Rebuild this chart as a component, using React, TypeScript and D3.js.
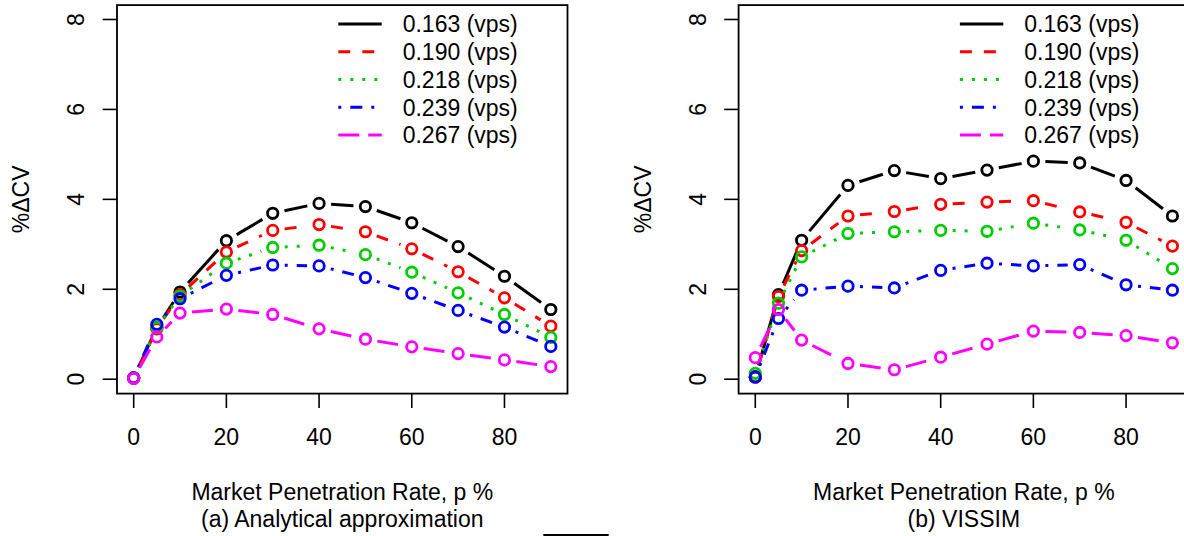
import React from "react";
import * as d3 from "d3";

// Market penetration rates (%) at which %ΔCV was evaluated
const penetration = [0, 5, 10, 20, 30, 40, 50, 60, 70, 80, 90];
const flowLabels = ["0.163 (vps)", "0.190 (vps)", "0.218 (vps)", "0.239 (vps)", "0.267 (vps)"];
const xTicks = [0, 20, 40, 60, 80];
const yTicks = [0, 2, 4, 6, 8];

// (a) Analytical approximation
const analytic163 = [0.03, 1.15, 1.94, 3.08, 3.69, 3.91, 3.84, 3.48, 2.95, 2.29, 1.55];
const analytic190 = [0.02, 1.12, 1.88, 2.83, 3.31, 3.44, 3.28, 2.9, 2.39, 1.81, 1.18];
const analytic218 = [0.02, 1.15, 1.85, 2.58, 2.93, 2.98, 2.77, 2.38, 1.92, 1.44, 0.93];
const analytic239 = [0.03, 1.22, 1.79, 2.31, 2.54, 2.52, 2.26, 1.91, 1.53, 1.16, 0.73];
const analytic267 = [0.02, 0.94, 1.47, 1.56, 1.44, 1.12, 0.89, 0.72, 0.57, 0.43, 0.28];

// (b) VISSIM simulation
const vissim163 = [0.05, 1.88, 3.09, 4.31, 4.64, 4.46, 4.65, 4.85, 4.81, 4.42, 3.63];
const vissim190 = [0.05, 1.84, 2.86, 3.63, 3.73, 3.89, 3.94, 3.97, 3.72, 3.49, 2.96];
const vissim218 = [0.13, 1.69, 2.72, 3.24, 3.28, 3.31, 3.29, 3.47, 3.32, 3.09, 2.46];
const vissim239 = [0.05, 1.35, 1.98, 2.07, 2.03, 2.42, 2.58, 2.52, 2.55, 2.1, 1.98];
const vissim267 = [0.48, 1.55, 0.87, 0.35, 0.21, 0.49, 0.78, 1.07, 1.04, 0.97, 0.81];

const colors = ["#000000", "#FF0000", "#00CD00", "#0000FF", "#FF00FF"];
// R line types 1..5 scaled by the line width
const LW = 3;
const dashes = [
  "none",
  `${4 * LW} ${4 * LW}`,
  `${1 * LW} ${3 * LW}`,
  `${1 * LW} ${3 * LW} ${4 * LW} ${3 * LW}`,
  `${7 * LW} ${3 * LW}`,
];

const FONT = "'Liberation Sans', Arial, Helvetica, sans-serif";
const FS = 23;
const PANEL_SHIFT = 621.6;
const GAP = 12;
const R = 5.2;

type PanelProps = { offset: number; series: number[][]; caption: string };

function Panel({ offset, series, caption }: PanelProps) {
  const x = d3.scaleLinear().domain([-3.6, 93.6]).range([117 + offset, 567.5 + offset]);
  const y = d3.scaleLinear().domain([-0.32, 8.32]).range([393.6, 5.1]);
  const [x0, x1] = x.range();
  const [yb, yt] = y.range();
  const cx = (x0 + x1) / 2;
  const cy = (yb + yt) / 2;

  return (
    <g>
      {/* series: type "b" lines with gaps around the points */}
      {series.map((vals, si) => {
        const pts = penetration.map((p, i) => [x(p), y(vals[i])] as [number, number]);
        const segs: JSX.Element[] = [];
        for (let i = 0; i < pts.length - 1; i++) {
          const [ax, ay] = pts[i];
          const [bx, by] = pts[i + 1];
          const len = Math.hypot(bx - ax, by - ay);
          if (len <= 2 * GAP) continue;
          const f = GAP / len;
          segs.push(
            <line
              key={i}
              x1={ax + f * (bx - ax)}
              y1={ay + f * (by - ay)}
              x2={bx - f * (bx - ax)}
              y2={by - f * (by - ay)}
              stroke={colors[si]}
              strokeWidth={LW}
              strokeDasharray={dashes[si]}
              strokeLinecap="butt"
            />
          );
        }
        return (
          <g key={si}>
            {segs}
            {pts.map(([px, py], i) => (
              <circle key={`c${i}`} cx={px} cy={py} r={R} fill="none" stroke={colors[si]} strokeWidth={2.8} />
            ))}
          </g>
        );
      })}

      {/* plot box */}
      <rect x={x0} y={yt} width={x1 - x0} height={yb - yt} fill="none" stroke="#000" strokeWidth={1.8} />

      {/* x axis */}
      {xTicks.map((t) => (
        <g key={`x${t}`}>
          <line x1={x(t)} x2={x(t)} y1={yb} y2={yb + 14.4} stroke="#000" strokeWidth={1.6} />
          <text x={x(t)} y={436.7} dy="0.36em" textAnchor="middle" fontFamily={FONT} fontSize={FS}>
            {t}
          </text>
        </g>
      ))}

      {/* y axis */}
      {yTicks.map((t) => (
        <g key={`y${t}`}>
          <line x1={x0 - 14.4} x2={x0} y1={y(t)} y2={y(t)} stroke="#000" strokeWidth={1.6} />
          <text
            transform={`translate(${76 + offset},${y(t)}) rotate(-90)`}
            dy="0.36em"
            textAnchor="middle"
            fontFamily={FONT}
            fontSize={FS}
          >
            {t}
          </text>
        </g>
      ))}

      <text
        transform={`translate(${21 + offset},${cy}) rotate(-90)`}
        dy="0.36em"
        textAnchor="middle"
        fontFamily={FONT}
        fontSize={FS}
      >
        %ΔCV
      </text>

      <text x={cx} y={491.6} dy="0.36em" textAnchor="middle" fontFamily={FONT} fontSize={FS}>
        Market Penetration Rate, p %
      </text>
      <text x={cx} y={519} dy="0.36em" textAnchor="middle" fontFamily={FONT} fontSize={FS}>
        {caption}
      </text>

      {/* legend */}
      {flowLabels.map((lab, i) => {
        const ly = 24 + i * 27.75;
        return (
          <g key={`l${i}`}>
            <line
              x1={338.3 + offset}
              x2={381.7 + offset}
              y1={ly}
              y2={ly}
              stroke={colors[i]}
              strokeWidth={LW}
              strokeDasharray={dashes[i]}
            />
            <text x={402.7 + offset} y={ly} dy="0.36em" fontFamily={FONT} fontSize={FS}>
              {lab}
            </text>
          </g>
        );
      })}
    </g>
  );
}

export default function App() {
  return (
    <svg
      width={1184}
      height={536}
      viewBox="0 0 1184 536"
      style={{ position: "absolute", left: 0, top: 0, background: "#fff" }}
    >
      <rect width={1184} height={536} fill="#fff" />
      <Panel
        offset={0}
        series={[analytic163, analytic190, analytic218, analytic239, analytic267]}
        caption="(a) Analytical approximation"
      />
      <Panel
        offset={PANEL_SHIFT}
        series={[vissim163, vissim190, vissim218, vissim239, vissim267]}
        caption="(b) VISSIM"
      />
      <line x1={543.3} x2={608.7} y1={535} y2={535} stroke="#000" strokeWidth={2} />
    </svg>
  );
}
